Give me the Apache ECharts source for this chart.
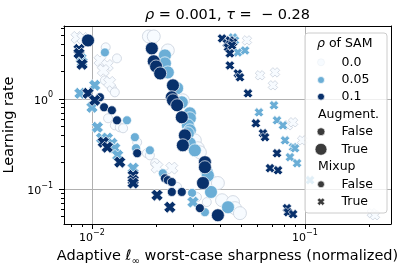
<!DOCTYPE html>
<html><head><meta charset="utf-8">
<script src="https://cdn.jsdelivr.net/npm/echarts@6/dist/echarts.min.js"></script>
<style>html,body{margin:0;padding:0;background:#fff}#c{width:412px;height:273px}</style>
</head><body><div id="c"></div>
<script>
// ---------- categories ----------
const rhoLevels = ['0.0', '0.05', '0.1'];
const rhoColors = ['#f7fbff', '#6baed6', '#08306b'];
const augLevels = ['False', 'True'];
const mixLevels = ['False', 'True'];

// ---------- axis ticks ----------
const xMin = 0.00739, xMax = 0.2534, yMin = 0.0412, yMax = 6.39;
const xMajorTicks = [0.01, 0.1];
const xMajorExp = ['\u22122', '\u22121'];
const xMinorTicks = [0.008, 0.009, 0.02, 0.03, 0.04, 0.05, 0.06, 0.07, 0.08, 0.09, 0.2];
const yMajorTicks = [0.1, 1];
const yMajorExp = ['\u22121', '0'];
const yMinorTicks = [0.05, 0.06, 0.07, 0.08, 0.09, 0.2, 0.3, 0.4, 0.5, 0.6, 0.7, 0.8, 0.9, 2, 3, 4, 5, 6];

// ---------- data: [sharpness, learning rate] ----------
// rho of SAM = 0.0
const r00_augF_mixF = [[0.0116,3.71],[0.0131,2.80],[0.0115,1.60],[0.0124,1.31],[0.0128,1.18],[0.0119,0.609],[0.0128,0.509],[0.0135,0.484],[0.0140,0.472],[0.0163,0.331],[0.0181,0.250],[0.0187,0.237],[0.0198,0.194],[0.0251,0.106],[0.0346,0.0720],[0.0311,0.0818]];
const r00_augT_mixF = [[0.0185,4.90],[0.0195,4.90],[0.0227,3.43],[0.0267,0.963],[0.0304,0.347],[0.0314,0.284],[0.0321,0.256],[0.0370,0.117],[0.0390,0.117],[0.0408,0.0755],[0.0459,0.0720],[0.0469,0.0617],[0.0495,0.0543]];
const r00_augF_mixT = [[0.0534,4.43],[0.0615,1.82],[0.0723,1.96],[0.0707,1.41],[0.0832,0.509],[0.0879,0.550],[0.0970,0.347],[0.206,0.0543],[0.213,0.0515]];
const r00_augT_mixT = [[0.0085,4.78],[0.00907,4.66],[0.0109,2.66],[0.0118,2.34],[0.0113,2.06],[0.0121,1.52],[0.0202,0.175],[0.0237,0.171]];
// rho of SAM = 0.05
const r05_augF_mixF = [[0.0115,3.26],[0.0146,0.578],[0.0159,0.376],[0.0161,0.284],[0.0187,0.269],[0.0215,0.150],[0.0295,0.0910],[0.0339,0.0556]];
const r05_augT_mixF = [[0.0220,3.02],[0.0220,2.47],[0.0227,1.96],[0.0251,1.31],[0.0264,0.915],[0.0288,0.691],[0.0288,0.609],[0.0282,0.509],[0.0288,0.448],[0.0282,0.416],[0.0288,0.322],[0.0304,0.269],[0.0346,0.154],[0.0350,0.142],[0.0362,0.0932],[0.0435,0.0632]];
const r05_augF_mixT = [[0.0459,4.78],[0.0469,4.43],[0.0484,3.26],[0.0523,3.43],[0.0608,0.708],[0.0715,0.848],[0.0739,0.578],[0.0788,0.509],[0.0806,0.347],[0.0879,0.291],[0.0898,0.284],[0.0850,0.226],[0.0918,0.194],[0.1056,0.126]];
const r05_augT_mixT = [[0.00888,2.80],[0.00898,2.53],[0.00878,1.15],[0.0103,1.41],[0.0100,0.805],[0.0106,0.484],[0.0111,0.367],[0.0118,0.367],[0.0124,0.322],[0.0128,0.284],[0.0132,0.237],[0.0156,0.171],[0.0298,0.0720]];
// rho of SAM = 0.1
const r10_augF_mixF = [[0.0109,1.04],[0.0114,0.805],[0.0124,0.746],[0.0131,0.578],[0.0163,0.250],[0.0220,0.132],[0.0227,0.126],[0.0237,0.120],[0.0237,0.0932],[0.0264,0.0932],[0.0321,0.0617]];
const r10_augT_mixF = [[0.00958,4.43],[0.0191,3.61],[0.0195,2.60],[0.0200,2.28],[0.0209,1.91],[0.0240,1.41],[0.0237,1.04],[0.0240,0.963],[0.0251,0.848],[0.0264,0.625],[0.0273,0.394],[0.0267,0.306],[0.0339,0.199],[0.0339,0.175],[0.0332,0.117],[0.0390,0.0515]];
const r10_augF_mixT = [[0.0408,4.66],[0.0430,4.11],[0.0444,4.43],[0.0459,4.21],[0.0435,3.71],[0.0454,3.90],[0.0444,3.18],[0.0444,2.34],[0.0484,1.91],[0.0495,1.73],[0.0540,1.15],[0.0588,0.536],[0.0635,0.416],[0.0649,0.376],[0.0739,0.250],[0.0685,0.171],[0.0747,0.162],[0.0823,0.0617],[0.0832,0.0556],[0.0879,0.0530]];
const r10_augT_mixT = [[0.00869,3.52],[0.00869,3.18],[0.00898,2.41],[0.00958,1.15],[0.0103,0.963],[0.0113,0.331],[0.0118,0.291],[0.0135,0.199],[0.0156,0.142],[0.0156,0.126],[0.0156,0.117],[0.0202,0.0858],[0.0232,0.0632]];

const groups = [
  {rho:0, aug:0, mix:0, data:r00_augF_mixF}, {rho:0, aug:1, mix:0, data:r00_augT_mixF},
  {rho:0, aug:0, mix:1, data:r00_augF_mixT}, {rho:0, aug:1, mix:1, data:r00_augT_mixT},
  {rho:1, aug:0, mix:0, data:r05_augF_mixF}, {rho:1, aug:1, mix:0, data:r05_augT_mixF},
  {rho:1, aug:0, mix:1, data:r05_augF_mixT}, {rho:1, aug:1, mix:1, data:r05_augT_mixT},
  {rho:2, aug:0, mix:0, data:r10_augF_mixF}, {rho:2, aug:1, mix:0, data:r10_augT_mixF},
  {rho:2, aug:0, mix:1, data:r10_augF_mixT}, {rho:2, aug:1, mix:1, data:r10_augT_mixT}
];

const FONT = 'DejaVu Sans';
// thick filled "X" marker (matplotlib 'X')
const XPTS = [[0,2.8],[2.8,0],[5,2.2],[7.2,0],[10,2.8],[7.8,5],[10,7.2],[7.2,10],[5,7.8],[2.8,10],[0,7.2],[2.2,5]];
const XPATH = 'path://M' + XPTS.map(p => p[0] + ',' + p[1]).join('L') + 'Z';

function expLabel(ticks, exps) {
  return function (v) {
    for (let i = 0; i < ticks.length; i++) {
      if (Math.abs(v - ticks[i]) < ticks[i] * 1e-6) return '{b|10}{s|' + exps[i] + '}';
    }
    return '';
  };
}
const richTick = {
  b: {fontFamily: FONT, fontSize: 11, color: '#000', lineHeight: 15, verticalAlign: 'bottom'},
  s: {fontFamily: FONT, fontSize: 8, color: '#000', lineHeight: 9, verticalAlign: 'top'}
};
const tickLine = {color: '#000', width: 1};

const G = {left: 64, top: 26, width: 327, height: 198};

function axisSet(dim) {
  const isX = dim === 'x';
  const major = isX ? xMajorTicks : yMajorTicks;
  const minor = isX ? xMinorTicks : yMinorTicks;
  const exps = isX ? xMajorExp : yMajorExp;
  const base = {type: 'log', logBase: 10, min: isX ? xMin : yMin, max: isX ? xMax : yMax, gridIndex: 0};
  const main = Object.assign({}, base, {
    position: isX ? 'bottom' : 'left',
    axisLine: {show: true, onZero: false, lineStyle: {color: '#000', width: 1}},
    axisTick: {show: true, inside: false, length: 5, lineStyle: tickLine, customValues: major},
    axisLabel: {show: true, customValues: major, formatter: expLabel(major, exps), margin: isX ? 5 : 11, rich: richTick},
    splitLine: {show: true, lineStyle: {color: '#b0b0b0', width: 1}},
    minorTick: {show: false}, minorSplitLine: {show: false}
  });
  if (isX) {
    main.name = '{n|Adaptive }{i|\u2113}{sub|\u221e}{n| worst-case sharpness (normalized)}';
    main.nameLocation = 'middle';
    main.nameGap = 25;
    main.nameTextStyle = {rich: {
      n: {fontFamily: FONT, fontSize: 14.5, color: '#000', lineHeight: 17, verticalAlign: 'top'},
      i: {fontFamily: FONT, fontSize: 14.5, fontStyle: 'italic', color: '#000', lineHeight: 17, verticalAlign: 'top'},
      sub: {fontFamily: FONT, fontSize: 10, color: '#000', lineHeight: 10, verticalAlign: 'bottom'}
    }};
  } else {
    main.name = 'Learning rate';
    main.nameLocation = 'middle';
    main.nameGap = 43;
    main.nameTextStyle = {fontFamily: FONT, fontSize: 14.5, color: '#000'};
  }
  const minorAxis = Object.assign({}, base, {
    position: isX ? 'bottom' : 'left',
    axisLine: {show: false},
    axisTick: {show: true, inside: false, length: 3, lineStyle: tickLine, customValues: minor},
    axisLabel: {show: false},
    splitLine: {show: false}
  });
  // opposite spine (top / right frame line)
  const spine = Object.assign({}, base, {
    position: isX ? 'top' : 'right',
    axisLine: {show: true, onZero: false, lineStyle: {color: '#000', width: 1}},
    axisTick: {show: false}, axisLabel: {show: false}, splitLine: {show: false}
  });
  return [main, minorAxis, spine];
}

const series = groups.map(g => ({
  type: 'scatter',
  xAxisIndex: 0, yAxisIndex: 0,
  data: g.data,
  symbol: g.mix ? XPATH : 'circle',
  symbolSize: g.mix ? (g.aug ? 12 : 9.5) : (g.aug ? 13 : 9),
  itemStyle: {color: rhoColors[g.rho], borderColor: g.rho === 0 ? '#c3ccd8' : '#ffffff', borderWidth: 0.7, opacity: 1},
  silent: true,
  animation: false
}));

// ---------- legend (drawn as graphic) ----------
const LX = 305, LY = 33, LW = 82, LH = 180;
const legText = (x, y, t, rich) => ({type: 'text', x: x, y: y, z: 101, style: {text: t, rich: rich, fontFamily: FONT, fontSize: 12.5, fill: '#000', verticalAlign: 'middle', align: 'left'}});
const mk = 321, tx = 341.5, row = [43.3, 62.3, 80, 96.7, 114.3, 131.7, 149.3, 166.7, 184.3, 201.7];
const xPoly = (cx, cy, s) => XPTS.map(q => [cx + (q[0] - 5) * s / 10, cy + (q[1] - 5) * s / 10]);
const graphics = [
  {type: 'rect', z: 100, shape: {x: LX, y: LY, width: LW, height: LH, r: 3}, style: {fill: 'rgba(255,255,255,0.8)', stroke: '#cccccc', lineWidth: 1}},
  legText(317, row[0], '{i|\u03c1}{n| of SAM}', {i: {fontFamily: FONT, fontSize: 12.5, fontStyle: 'italic'}, n: {fontFamily: FONT, fontSize: 12.5}}),
];
rhoLevels.forEach((lv, i) => {
  graphics.push({type: 'circle', z: 101, shape: {cx: mk, cy: row[1 + i], r: 3.5}, style: {fill: rhoColors[i], stroke: i === 0 ? '#eef2f7' : '#fff', lineWidth: 0.7}});
  graphics.push(legText(tx, row[1 + i], lv));
});
graphics.push(legText(318, row[4], 'Augment.'));
augLevels.forEach((lv, i) => {
  graphics.push({type: 'circle', z: 101, shape: {cx: mk, cy: row[5 + i], r: i ? 6 : 4}, style: {fill: '#3b3b3b', stroke: '#fff', lineWidth: 0.7}});
  graphics.push(legText(tx, row[5 + i], lv));
});
graphics.push(legText(318, row[7], 'Mixup'));
mixLevels.forEach((lv, i) => {
  if (i === 0) graphics.push({type: 'circle', z: 101, shape: {cx: mk, cy: row[8], r: 3.5}, style: {fill: '#3b3b3b', stroke: '#fff', lineWidth: 0.7}});
  else graphics.push({type: 'polygon', z: 101, shape: {points: xPoly(mk, row[9], 7.5)}, style: {fill: '#3b3b3b', stroke: '#fff', lineWidth: 0.5}});
  graphics.push(legText(tx, row[8 + i], lv));
});
// title
graphics.push({type: 'text', x: 227.5, y: 15.5, z: 101, style: {
  text: '{i|\u03c1}{n| = 0.001, }{i|\u03c4}{n| =  \u2212 0.28}',
  rich: {i: {fontFamily: FONT, fontSize: 14.5, fontStyle: 'italic', fill: '#000'}, n: {fontFamily: FONT, fontSize: 14.5, fill: '#000'}},
  fontFamily: FONT, fontSize: 14.5, fill: '#000', align: 'center', verticalAlign: 'middle'}});

const chart = echarts.init(document.getElementById('c'), null, {renderer: 'canvas', width: 412, height: 273});
chart.setOption({
  animation: false,
  backgroundColor: '#fff',
  grid: Object.assign({show: false, containLabel: false, outerBoundsMode: 'none'}, G),
  xAxis: axisSet('x'),
  yAxis: axisSet('y'),
  series: series,
  graphic: graphics
});
</script></body></html>
